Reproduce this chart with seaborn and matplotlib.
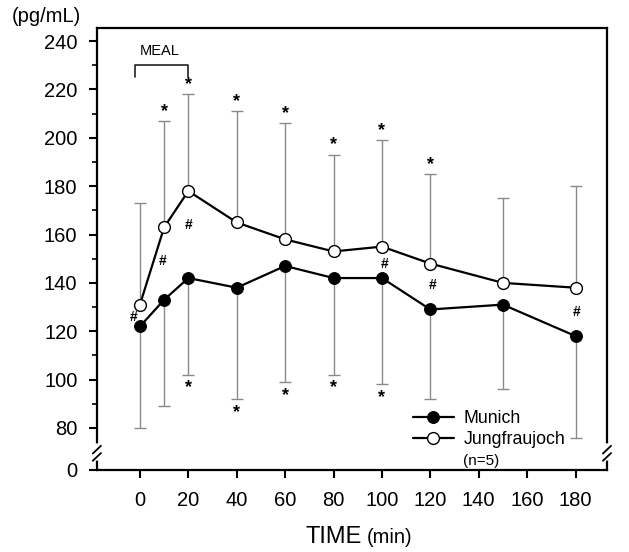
import numpy as np
import pandas as pd
import matplotlib
matplotlib.use('Agg')
import matplotlib.pyplot as plt
import seaborn as sns

# values (pg/mL)
time = [0, 10, 20, 40, 60, 80, 100, 120, 150, 180]
munich = [122, 133, 142, 138, 147, 142, 142, 129, 131, 118]
munich_low = [80, 89, 102, 92, 99, 102, 98, 92, 96, 76]
jungfrau = [131, 163, 178, 165, 158, 153, 155, 148, 140, 138]
jungfrau_high = [173, 207, 218, 211, 206, 193, 199, 185, 175, 180]

# significance marks
star_up = [10, 20, 40, 60, 80, 100, 120]
star_down = [20, 40, 60, 80, 100]
hash_t = [-2.5, 9.5, 20, 101, 121, 180.5]
hash_v = [126, 149, 164, 148, 139, 128]

xticks = [0, 20, 40, 60, 80, 100, 120, 140, 160, 180]
yticks = [80, 100, 120, 140, 160, 180, 200, 220, 240]
ZERO = 62.6  # where "0" sits below the axis break

df = pd.DataFrame({'time': time, 'munich': munich, 'munich_low': munich_low,
                   'jungfrau': jungfrau, 'jungfrau_high': jungfrau_high})

sns.set_style('ticks')
plt.rcParams['font.family'] = ['Liberation Sans', 'DejaVu Sans']
for k in ['text.color', 'axes.edgecolor', 'xtick.color', 'ytick.color', 'axes.labelcolor']:
    plt.rcParams[k] = 'black'

fig = plt.figure(figsize=(6.29, 5.52), dpi=100)
ax = fig.add_axes([0.154, 0.1486, 0.811, 0.8005])

gray = '#8a8a8a'
#error bars (one-sided)
ax.errorbar(df.time, df.jungfrau, yerr=[np.zeros(len(df)), df.jungfrau_high - df.jungfrau],
            fmt='none', ecolor=gray, elinewidth=1.0, capsize=4, capthick=1.0, zorder=1)
ax.errorbar(df.time, df.munich, yerr=[df.munich - df.munich_low, np.zeros(len(df))],
            fmt='none', ecolor=gray, elinewidth=1.0, capsize=4, capthick=1.0, zorder=1)

sns.lineplot(data=df, x='time', y='munich', ax=ax, color='black', lw=1.6,
             marker='o', markersize=8.5, markerfacecolor='black', markeredgecolor='black',
             label='Munich', zorder=3)
sns.lineplot(data=df, x='time', y='jungfrau', ax=ax, color='black', lw=1.6,
             marker='o', markersize=8.5, markerfacecolor='white', markeredgecolor='black',
             markeredgewidth=1.0, label='Jungfraujoch', zorder=3)

#stars and hashes
for t in star_up:
    ax.text(t, df.jungfrau_high[df.time == t].iloc[0] + 4, '*', ha='center', va='center',
            fontsize=13, fontweight='bold')
for t in star_down:
    ax.text(t, df.munich_low[df.time == t].iloc[0] - 5.5, '*', ha='center', va='center',
            fontsize=13, fontweight='bold')
for t, v in zip(hash_t, hash_v):
    ax.text(t, v, '#', ha='center', va='center', fontsize=10, fontweight='bold')

#meal bracket
ax.plot([-2, -2, 20, 20], [225, 230, 230, 225], color='#222222', lw=1.2)
ax.text(8, 236, 'MEAL', ha='center', va='center', fontsize=10.5)

ax.set_xlim(-17.8, 193)
ax.set_ylim(ZERO, 245.4)
ax.set_xticks(xticks)
ax.set_yticks([ZERO] + yticks)
ax.set_yticklabels(['0'] + [str(v) for v in yticks])
ax.set_yticks(np.arange(90, 240, 20), minor=True)
ax.tick_params(axis='both', which='major', labelsize=14.5, width=1.5, length=6, direction='out')
ax.tick_params(axis='y', which='major', pad=8)
ax.tick_params(axis='x', which='major', pad=9)
ax.tick_params(axis='y', which='minor', width=1.2, length=3.5, direction='out')
for s in ax.spines.values():
    s.set_linewidth(1.6)
ax.set_xlabel('')
ax.set_ylabel('')

#axis breaks
tr = ax.get_yaxis_transform()
for xa in [0, 1]:
    ax.plot([xa, xa], [67.5, 72.5], color='white', lw=4, transform=tr, clip_on=False, zorder=5)
    for yb in [68, 71]:
        ax.plot([xa - 0.008, xa + 0.008], [yb - 1.6, yb + 1.6], color='black', lw=1.3,
                transform=tr, clip_on=False, zorder=6)

leg = ax.legend(loc='upper left', bbox_to_anchor=(413 / 629, 1 - 410 / 552),
                bbox_transform=fig.transFigure, frameon=False, fontsize=12.8,
                handlelength=2.3, handletextpad=0.55, labelspacing=0.25,
                borderpad=0, borderaxespad=0)
fig.text(463 / 629, 1 - 461 / 552, '(n=5)', fontsize=11, va='center', ha='left')

fig.text(362 / 629, 1 - 543 / 552, 'TIME', fontsize=17, ha='right', va='baseline')
fig.text(367 / 629, 1 - 543 / 552, '(min)', fontsize=14.5, ha='left', va='baseline')
fig.text(12 / 629, 1 - 22 / 552, '(pg/mL)', fontsize=14.5, ha='left', va='baseline')

fig.savefig('out.png', dpi=100)
